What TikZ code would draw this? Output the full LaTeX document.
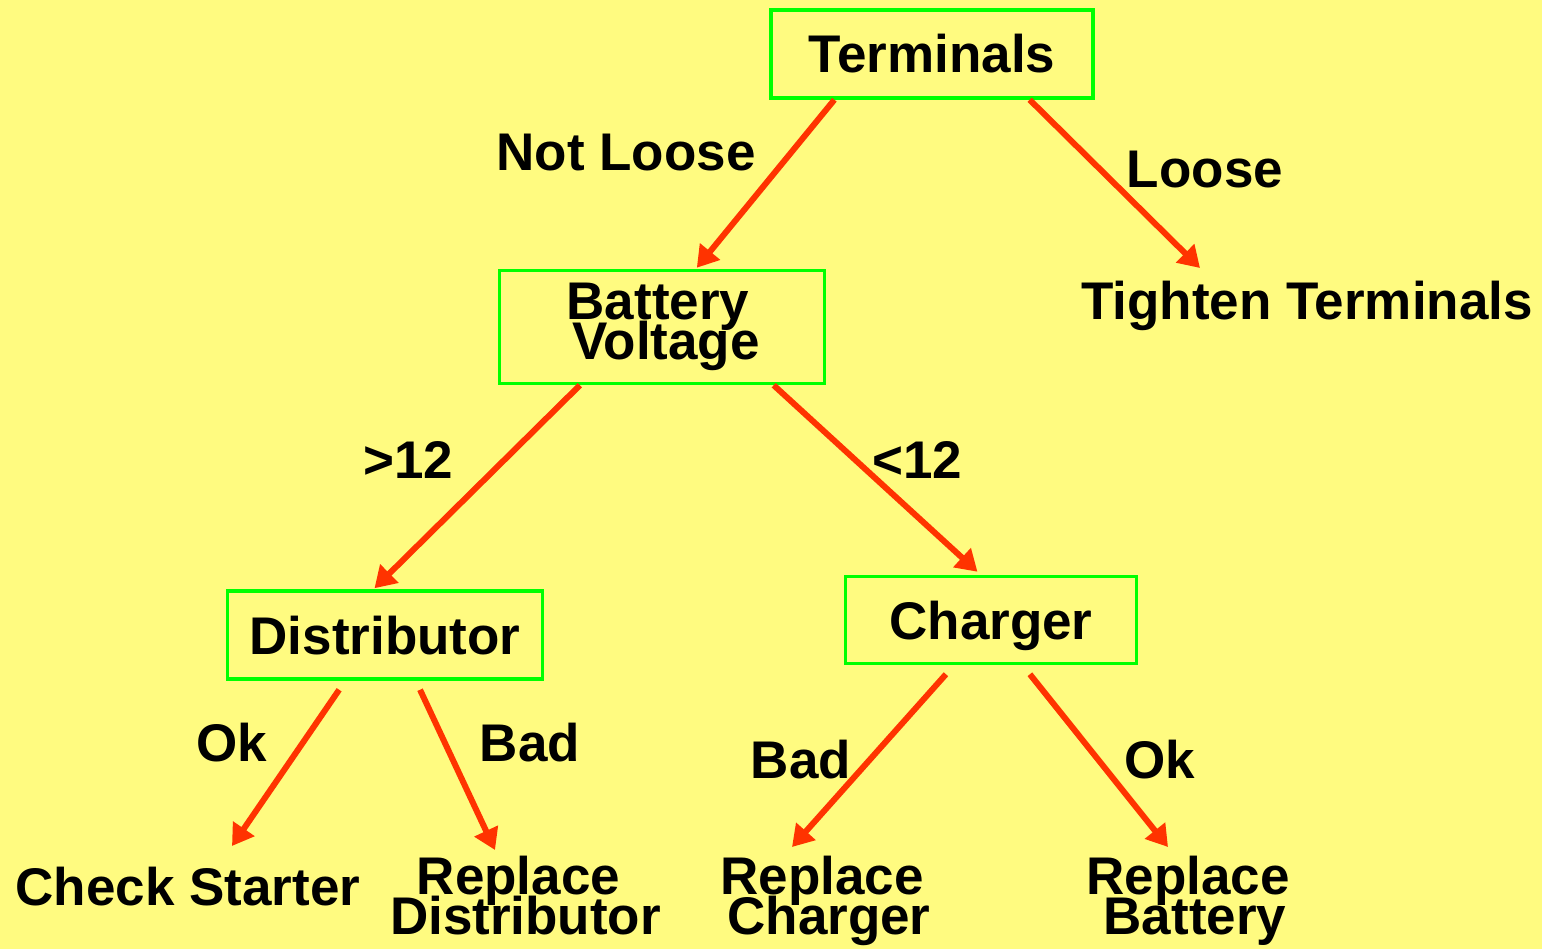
\documentclass[tikz,border=0pt]{standalone}
\usepackage{fontspec}
\setmainfont{Liberation Sans}
\usetikzlibrary{arrows.meta,calc}
\definecolor{bgyellow}{RGB}{255,251,128}
\definecolor{boxgreen}{RGB}{0,255,0}
\definecolor{arrred}{RGB}{255,51,0}
\lineskiplimit=-100pt
\tikzset{
  every node/.style={font=\fontsize{53}{40}\selectfont\bfseries, inner sep=0pt, align=center},
  testbox/.style={draw=boxgreen, line width=3.5pt},
  onebox/.style={testbox, text height=38pt, text depth=0pt},
  arr/.style={draw=arrred, line width=6pt, -{Triangle[length=21pt,width=25pt]}},
}
\begin{document}
\begin{tikzpicture}[x=1pt,y=-1pt]
\fill[bgyellow] (0,0) rectangle (1542,949);
\useasboundingbox (0,0) rectangle (1542,949);
% decision boxes
\node[onebox, minimum width=322pt, minimum height=88pt] (term) at (932,54) {Terminals};
\node[testbox, minimum width=325pt, minimum height=113pt] (batt) at (662,327) {\hspace*{-8pt}Battery\\\hspace*{8pt}Voltage};
\node[onebox, minimum width=315pt, minimum height=88pt] (dist) at (385,635) {Distributor};
\node[onebox, minimum width=291pt, minimum height=87pt] (charg) at (991,620) {Charger};
% leaves
\node (tight) at (1307,306) {Tighten Terminals};
\node (check) at (188,887) {Check Starter};
\node (repdist) at (522,896) {\hspace*{-7pt}Replace\\\hspace*{7pt}Distributor};
\node (repcharg) at (825.5,901) {\hspace*{-7pt}Replace\\\hspace*{7pt}Charger};
\node (repbatt) at (1191.5,901) {\hspace*{-7pt}Replace\\\hspace*{7pt}Battery};
% connectors
\draw[arr] ($(term.south west)!0.2!(term.south east)$) -- ($(batt.north west)!0.606!(batt.north east)+(0,-1)$);
\draw[arr] ($(term.south west)!0.8!(term.south east)$) -- ($(tight)+(-107,-38)$);
\draw[arr] ($(batt.south west)!0.25!(batt.south east)$) -- ($(dist.north west)!0.467!(dist.north east)+(0,-1)$);
\draw[arr] ($(batt.south west)!0.84!(batt.south east)$) -- ($(charg.north west)!0.454!(charg.north east)+(0,-3)$);
\draw[arr] ($(dist.south west)!0.356!(dist.south east)+(0,9)$) -- ($(check)+(44,-41)$);
\draw[arr] ($(dist.south west)!0.61!(dist.south east)+(0,9)$) -- ($(repdist)+(-27,-46)$);
\draw[arr] ($(charg.south west)!0.347!(charg.south east)+(0,9)$) -- ($(repcharg)+(-33.5,-54)$);
\draw[arr] ($(charg.south west)!0.632!(charg.south east)+(0,9)$) -- ($(repbatt)+(-23.5,-54)$);
% edge labels
\node (lnl) at (626,153) {Not Loose};
\node (ll) at (1205,170) {Loose};
\node (lgt) at (408,460) {>12};
\node (llt) at (917,460) {<12};
\node (lok1) at (232,743) {Ok};
\node (lbad1) at (530,743) {Bad};
\node (lbad2) at (801,760) {Bad};
\node (lok2) at (1160,760) {Ok};
\end{tikzpicture}
\end{document}
